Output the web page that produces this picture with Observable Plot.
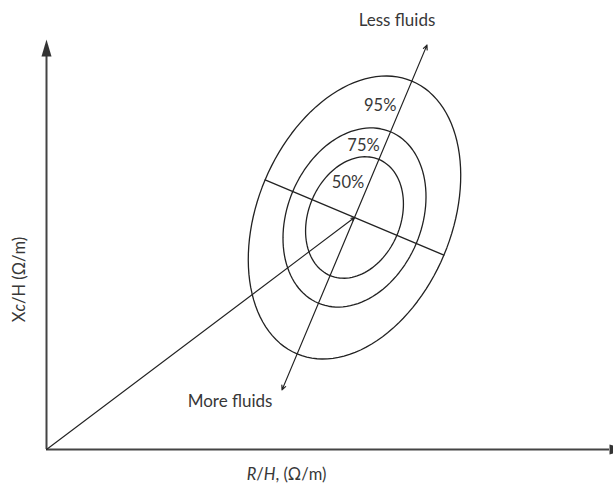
<!DOCTYPE html>
<html>
<head>
<meta charset="utf-8">
<script src="https://cdn.jsdelivr.net/npm/d3@7"></script>
<script src="https://cdn.jsdelivr.net/npm/@observablehq/plot@0.6"></script>
<style>
  html, body { margin: 0; padding: 0; background: #fff; }
  #chart svg { display: block; }
</style>
</head>
<body>
<div id="chart"></div>
<script>
// ---- chart values (arbitrary, unit-equal axes; no ticks shown) ----
const levels = ["50%", "75%", "95%"];
const semiMajor = [63, 93, 148];
const semiMinor = [46, 67, 97];
const labelAlong = [38, 78, 121];
const centerX = 308;
const centerY = 232;
const angleDeg = 67.2;
const majorHalfLength = 187;
const directionLabels = ["Less fluids", "More fluids"];
const xAxisLabel = "R/H, (Ω/m)";
const yAxisLabel = "Xc/H (Ω/m)";
const xMax = 566;
const yMax = 407;

// ---- derived geometry ----
const th = angleDeg * Math.PI / 180;
const ux = Math.cos(th), uy = Math.sin(th);   // major direction
const vx = uy, vy = -ux;                       // minor direction
const ellipsePts = [];
levels.forEach((lv, i) => {
  for (let deg = 0; deg < 360; deg += 3) {
    const t = deg * Math.PI / 180;
    const a = semiMajor[i] * Math.cos(t), b = semiMinor[i] * Math.sin(t);
    ellipsePts.push({level: lv, x: centerX + a * ux + b * vx, y: centerY + a * uy + b * vy});
  }
});
const bOut = semiMinor[semiMinor.length - 1];
const minorLine = [
  {x: centerX - bOut * vx, y: centerY - bOut * vy},
  {x: centerX + bOut * vx, y: centerY + bOut * vy}
];
const majorEnds = [
  {x: centerX + majorHalfLength * ux, y: centerY + majorHalfLength * uy},
  {x: centerX - majorHalfLength * ux, y: centerY - majorHalfLength * uy}
];
const pctLabels = levels.map((lv, i) => ({
  text: lv, x: centerX + labelAlong[i] * ux, y: centerY + labelAlong[i] * uy
}));

const triUp = {draw(ctx) { ctx.moveTo(0, -8.5); ctx.lineTo(5, 8.5); ctx.lineTo(-5, 8.5); ctx.closePath(); }};
const triRight = {draw(ctx) { ctx.moveTo(8.5, 0); ctx.lineTo(-8.5, 5); ctx.lineTo(-8.5, -5); ctx.closePath(); }};

const FONT = "Lato, 'Open Sans', sans-serif";
const TXT = "#383838";
const LINE = "#222";

const chart = Plot.plot({
  width: 613,
  height: 483,
  marginLeft: 46,
  marginRight: 1,
  marginTop: 42,
  marginBottom: 34,
  x: {domain: [0, xMax], axis: null},
  y: {domain: [0, yMax], axis: null},
  style: {fontFamily: FONT, background: "#fff"},
  marks: [
    // axes
    Plot.ruleX([0], {y1: 0, y2: yMax - 12, stroke: "#444", strokeWidth: 2}),
    Plot.ruleY([0], {x1: 0, x2: xMax - 3, stroke: "#444", strokeWidth: 2}),
    Plot.dot([0], {x: 0, y: yMax - 5.5, symbol: triUp, fill: "#333", stroke: null}),
    Plot.dot([0], {x: xMax + 5.5, y: 0, symbol: triRight, fill: "#333", stroke: null}),
    // ellipses
    Plot.line(ellipsePts, {x: "x", y: "y", z: "level", curve: "linear-closed", stroke: LINE, strokeWidth: 1.3}),
    // minor axis
    Plot.line(minorLine, {x: "x", y: "y", stroke: LINE, strokeWidth: 1.3}),
    // major axis (double arrow)
    Plot.arrow(majorEnds, {x1: centerX, y1: centerY, x2: "x", y2: "y", stroke: LINE, strokeWidth: 1.2, headLength: 6, headAngle: 50}),
    // impedance vector
    Plot.arrow([0], {x1: 0, y1: 0, x2: centerX, y2: centerY, stroke: LINE, strokeWidth: 1.1, headLength: 5, headAngle: 50}),
    // labels
    Plot.text(pctLabels, {x: "x", y: "y", text: "text", textAnchor: "end", dx: -5, fontSize: 16.5, fill: TXT}),
    Plot.text([directionLabels[0]], {x: majorEnds[0].x, y: majorEnds[0].y, text: d => d, dx: -30, dy: -25, fontSize: 17, fill: TXT}),
    Plot.text([directionLabels[1]], {x: majorEnds[1].x, y: majorEnds[1].y, text: d => d, dx: -52, dy: 12, fontSize: 17, fill: TXT}),
    Plot.text([xAxisLabel], {x: 240, y: 0, text: d => d, dy: 25, fontSize: 16.5, fill: TXT}),
    Plot.text([yAxisLabel], {x: 0, y: 170, text: d => d, dx: -27, rotate: -90, fontSize: 16.5, fill: TXT})
  ]
});

// italic parts of axis labels
const NS = "http://www.w3.org/2000/svg";
function richText(svg, full, parts) {
  svg.querySelectorAll("text").forEach(t => {
    if (t.textContent === full) {
      t.textContent = "";
      parts.forEach(([s, it]) => {
        const ts = document.createElementNS(NS, "tspan");
        ts.textContent = s;
        if (it) ts.setAttribute("font-style", "italic");
        t.appendChild(ts);
      });
    }
  });
}
richText(chart, xAxisLabel, [["R", true], ["/", false], ["H", true], [", (Ω/m)", false]]);
richText(chart, yAxisLabel, [["X", false], ["c", true], ["/", false], ["H", false], [" (Ω/m)", false]]);

document.getElementById("chart").appendChild(chart);
</script>
</body>
</html>
